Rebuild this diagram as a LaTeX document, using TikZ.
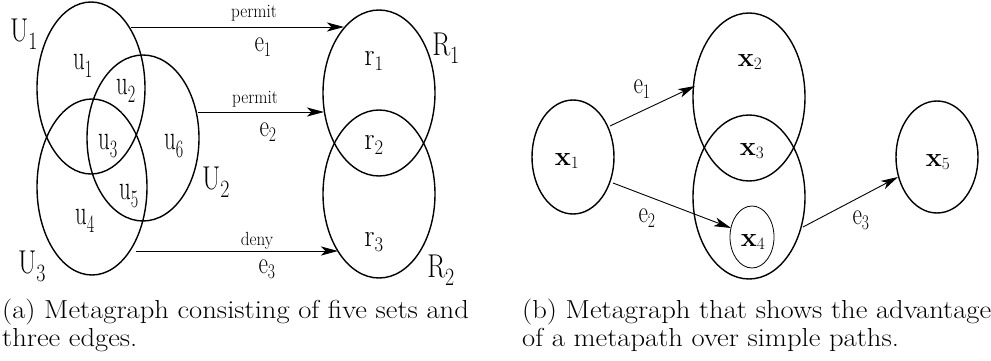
\documentclass[tikz,border=0pt]{standalone}
\usetikzlibrary{shapes.geometric,arrows.meta}
\begin{document}
\begin{tikzpicture}[x=1pt,y=-1pt,
  setell/.style={draw,ellipse,inner sep=0pt,line width=1.4pt},
  arr/.style={-{Stealth[length=17pt,width=9pt,inset=4.5pt]},line width=0.9pt},
  labU/.style={inner sep=0pt,font=\fontsize{33}{36}\selectfont},
  labu/.style={inner sep=0pt,font=\fontsize{35}{38}\selectfont},
  labe/.style={inner sep=0pt,font=\fontsize{31}{34}\selectfont},
  labp/.style={inner sep=0pt,anchor=base,font=\fontsize{19}{22}\selectfont},
  labr/.style={inner sep=0pt,font=\fontsize{32}{34}\selectfont},
  labb/.style={inner sep=0pt,font=\fontsize{27}{30}\selectfont\bfseries},
  capt/.style={inner sep=0pt,anchor=base west,font=\fontsize{26}{30}\selectfont}]
\useasboundingbox (0,0) rectangle (991,361);
% ---------- (a) ----------
\node[setell,minimum width=108pt,minimum height=172pt] (U1) at (91,88) {};
\node[setell,minimum width=112pt,minimum height=166pt] (U2) at (143,138) {};
\node[setell,minimum width=110pt,minimum height=176pt] (U3) at (92,187) {};
\node[setell,minimum width=112pt,minimum height=166pt] (R1) at (379,93) {};
\node[setell,minimum width=112pt,minimum height=168pt] (R2) at (379,194) {};
\node[labU] (lU1) at (24,34) {\scalebox{0.8}[1]{U$_1$}};
\node[labU] (lU2) at (216,182) {\scalebox{0.8}[1]{U$_2$}};
\node[labU] (lU3) at (32,266) {\scalebox{0.8}[1]{U$_3$}};
\node[labu] (u1) at (83,66) {\scalebox{0.65}[1]{u$_1$}};
\node[labu] (u2) at (126,91) {\scalebox{0.65}[1]{u$_2$}};
\node[labu] (u3) at (108,146) {\scalebox{0.65}[1]{u$_3$}};
\node[labu] (u6) at (174,146) {\scalebox{0.65}[1]{u$_6$}};
\node[labu] (u5) at (129,196) {\scalebox{0.65}[1]{u$_5$}};
\node[labu] (u4) at (85,221) {\scalebox{0.65}[1]{u$_4$}};
\node[labr] (r1) at (374,61) {\scalebox{0.9}[1]{r$_1$}};
\node[labr] (r2) at (374,145) {\scalebox{0.9}[1]{r$_2$}};
\node[labr] (r3) at (374,242) {\scalebox{0.9}[1]{r$_3$}};
\node[labU] (lR1) at (446,48) {\scalebox{0.8}[1]{R$_1$}};
\node[labU] (lR2) at (441,270) {\scalebox{0.8}[1]{R$_2$}};
\coordinate (a1s) at (131,27);
\coordinate (a1t) at (344,27);
\coordinate (a2s) at (198,112);
\coordinate (a2t) at (324,112);
\coordinate (a3s) at (136,251);
\coordinate (a3t) at (338,251);
\draw[arr] (a1s) -- (a1t);
\draw[arr] (a2s) -- (a2t);
\draw[arr] (a3s) -- (a3t);
\node[labp] (p1) at (254,18) {\scalebox{0.9}[1]{permit}};
\node[labp] (p2) at (255,103) {\scalebox{0.9}[1]{permit}};
\node[labp] (p3) at (257,245) {\scalebox{0.9}[1]{deny}};
\node[labe] (e1) at (263,47) {\scalebox{0.75}[1]{e$_1$}};
\node[labe] (e2) at (268,132) {\scalebox{0.75}[1]{e$_2$}};
\node[labe] (e3) at (267,269) {\scalebox{0.75}[1]{e$_3$}};
% ---------- (b) ----------
\node[setell,minimum width=82pt,minimum height=114pt] (X1) at (573,157) {};
\node[setell,minimum width=112pt,minimum height=168pt] (X2) at (749,97) {};
\node[setell,minimum width=112pt,minimum height=164pt] (X34) at (749,197) {};
\node[draw,ellipse,inner sep=0pt,line width=0.8pt,minimum width=44pt,minimum height=62pt] (X4) at (752,237) {};
\node[setell,minimum width=82pt,minimum height=112pt] (X5) at (937,157) {};
\node[labb] (x1) at (567,161) {x$_1$};
\node[labb] (x2) at (750,62) {x$_2$};
\node[labb] (x3) at (752,151) {x$_3$};
\node[labb] (x4) at (753,242) {x$_4$};
\node[labb] (x5) at (938,162) {x$_5$};
\coordinate (b1s) at (610,126);
\coordinate (b1t) at (695,86);
\coordinate (b2s) at (613,183);
\coordinate (b2t) at (731,228);
\coordinate (b3s) at (803,227);
\coordinate (b3t) at (898,177);
\draw[arr] (b1s) -- (b1t);
\draw[arr] (b2s) -- (b2t);
\draw[arr] (b3s) -- (b3t);
\node[labe] (f1) at (642,89) {\scalebox{0.75}[1]{e$_1$}};
\node[labe] (f2) at (647,218) {\scalebox{0.75}[1]{e$_2$}};
\node[labe] (f3) at (861,220) {\scalebox{0.75}[1]{e$_3$}};
% ---------- captions ----------
\node[capt] (ca1) at (2,318) {\scalebox{1.1}[1]{(a) Metagraph consisting of five sets and}};
\node[capt] (ca2) at (2,346) {\scalebox{1.1}[1]{three edges.}};
\node[capt] (cb1) at (522,318) {\scalebox{1.1}[1]{(b) Metagraph that shows the advantage}};
\node[capt] (cb2) at (522,346) {\scalebox{1.1}[1]{of a metapath over simple paths.}};
\end{tikzpicture}
\end{document}
